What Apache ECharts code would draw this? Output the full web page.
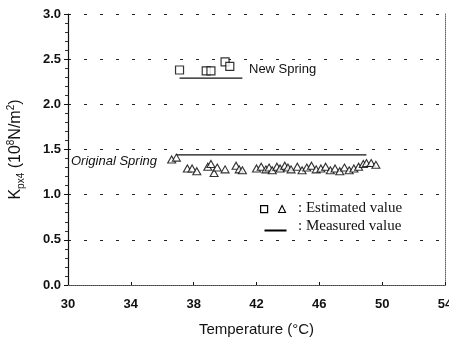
<!DOCTYPE html>
<html>
<head>
<meta charset="utf-8">
<script src="https://cdn.jsdelivr.net/npm/echarts@6/dist/echarts.min.js"></script>
<style>
  html, body { margin: 0; padding: 0; background: #fff; }
  #chart { width: 449px; height: 342px; }
</style>
</head>
<body>
<div id="chart"></div>
<script>
// Estimated values, new spring (squares)
const newTemps = [37.1, 38.8, 39.1, 40.0, 40.3];
const newK = [2.38, 2.37, 2.37, 2.47, 2.42];

// Estimated values, original spring (triangles)
const origTemps = [36.6, 36.9, 37.6, 37.9, 38.2, 38.9, 39.1, 39.3, 39.5, 40.0, 40.7, 40.9, 41.1,
  42.0, 42.3, 42.6, 42.8, 43.0, 43.3, 43.5, 43.8, 44.0, 44.2, 44.6, 44.9, 45.2, 45.5, 45.8,
  46.1, 46.4, 46.7, 47.0, 47.3, 47.6, 47.9, 48.2, 48.5, 48.8, 49.0, 49.3, 49.6];
const origK = [1.39, 1.41, 1.29, 1.29, 1.26, 1.31, 1.34, 1.24, 1.30, 1.28, 1.32, 1.28, 1.27,
  1.29, 1.31, 1.28, 1.30, 1.27, 1.31, 1.29, 1.32, 1.30, 1.28, 1.31, 1.27, 1.30, 1.32, 1.28,
  1.29, 1.31, 1.27, 1.29, 1.26, 1.30, 1.27, 1.29, 1.31, 1.34, 1.35, 1.35, 1.33];

// Measured values (horizontal lines)
const newMeasTemps = [37.1, 41.1];
const newMeasK = 2.29;
const origMeasTemps = [36.9, 49.0];
const origMeasK = 1.44;

const chart = echarts.init(document.getElementById('chart'));

const sans = 'Arial, "Liberation Sans", sans-serif';
const serif = '"Times New Roman", "Liberation Serif", serif';
const gridDash = { color: '#222', width: 1, type: [3, 13] };

chart.setOption({
  animation: false,
  backgroundColor: '#fff',
  grid: { left: 68, right: 4, top: 14, bottom: 57, outerBoundsMode: 'none' },
  xAxis: [
    {
      type: 'value',
      min: 30,
      max: 54,
      interval: 4,
      name: 'Temperature (°C)',
      nameLocation: 'middle',
      nameGap: 37,
      nameTextStyle: { fontFamily: sans, fontSize: 15, color: '#111' },
      axisLine: { onZero: false, lineStyle: { color: '#111', width: 1.2 } },
      axisTick: { inside: true, length: 3, lineStyle: { color: '#111' } },
      axisLabel: { margin: 13, fontFamily: sans, fontSize: 13, fontWeight: 'bold', color: '#111' },
      splitLine: { show: false },
    },
    {
      type: 'value',
      position: 'top',
      min: 30,
      max: 54,
      axisLine: { show: true, lineStyle: { color: '#666', width: 1, type: 'dotted' } },
      axisTick: { show: false },
      axisLabel: { show: false },
      splitLine: { show: false },
    },
  ],
  yAxis: [
    {
      type: 'value',
      min: 0,
      max: 3,
      interval: 0.5,
      name: '{k|K}{sub|px4}{t| (10}{sup|8}{t|N/m}{sup|2}{t|)}',
      nameLocation: 'middle',
      nameGap: 42,
      nameTextStyle: {
        rich: {
          k: { fontFamily: sans, fontSize: 16, color: '#111', lineHeight: 20 },
          t: { fontFamily: sans, fontSize: 16, color: '#111', lineHeight: 20 },
          sub: { fontFamily: sans, fontSize: 10, color: '#111', lineHeight: 11, verticalAlign: 'bottom' },
          sup: { fontFamily: sans, fontSize: 10, color: '#111', lineHeight: 11, verticalAlign: 'top' },
        },
      },
      axisLine: { onZero: false, lineStyle: { color: '#111', width: 1.2 } },
      axisTick: { length: 4, lineStyle: { color: '#111' } },
      minorTick: { show: true, splitNumber: 5, length: 3, lineStyle: { color: '#333' } },
      axisLabel: {
        margin: 7,
        fontFamily: sans,
        fontSize: 13,
        fontWeight: 'bold',
        color: '#111',
        formatter: (v) => v.toFixed(1),
      },
      splitLine: { show: true, lineStyle: gridDash },
    },
    {
      type: 'value',
      position: 'right',
      min: 0,
      max: 3,
      axisLine: { show: true, lineStyle: { color: '#666', width: 1, type: 'dotted' } },
      axisTick: { show: false },
      axisLabel: { show: false },
      splitLine: { show: false },
    },
  ],
  series: [
    {
      name: 'New Spring estimated',
      type: 'scatter',
      symbol: 'rect',
      symbolSize: 8,
      itemStyle: { color: '#fff', borderColor: '#000', borderWidth: 1.2 },
      data: newTemps.map((t, i) => [t, newK[i]]),
      z: 3,
    },
    {
      name: 'Original Spring estimated',
      type: 'scatter',
      symbol: 'triangle',
      symbolSize: [8, 7],
      itemStyle: { color: '#fff', borderColor: '#000', borderWidth: 1.1 },
      data: origTemps.map((t, i) => [t, origK[i]]),
      z: 3,
    },
    {
      name: 'New Spring measured',
      type: 'line',
      symbol: 'none',
      lineStyle: { color: '#111', width: 1.3 },
      data: newMeasTemps.map((t) => [t, newMeasK]),
    },
    {
      name: 'Original Spring measured',
      type: 'line',
      symbol: 'none',
      lineStyle: { color: '#111', width: 1.3 },
      data: origMeasTemps.map((t) => [t, origMeasK]),
    },
  ],
  graphic: [
    // curve labels
    {
      type: 'text', left: 249, top: 63,
      style: { text: 'New Spring', font: '13px ' + sans, fill: '#111' },
    },
    {
      type: 'text', left: 71, top: 155,
      style: { text: 'Original Spring', font: 'italic 13px ' + sans, fill: '#111' },
    },
    // legend
    {
      type: 'rect', left: 260, top: 205,
      shape: { width: 7, height: 7 },
      style: { fill: '#fff', stroke: '#000', lineWidth: 1.2 },
    },
    {
      type: 'polygon', left: 278, top: 205,
      shape: { points: [[3.5, 0], [7, 7], [0, 7]] },
      style: { fill: '#fff', stroke: '#000', lineWidth: 1.1 },
    },
    {
      type: 'text', left: 298, top: 201,
      style: { text: ': Estimated value', font: '15px ' + serif, fill: '#111' },
    },
    {
      type: 'line', left: 262, top: 228,
      shape: { x1: 0, y1: 0, x2: 22, y2: 0 },
      style: { stroke: '#000', lineWidth: 2 },
    },
    {
      type: 'text', left: 298, top: 219,
      style: { text: ': Measured value', font: '15px ' + serif, fill: '#111' },
    },
  ],
});
</script>
</body>
</html>
